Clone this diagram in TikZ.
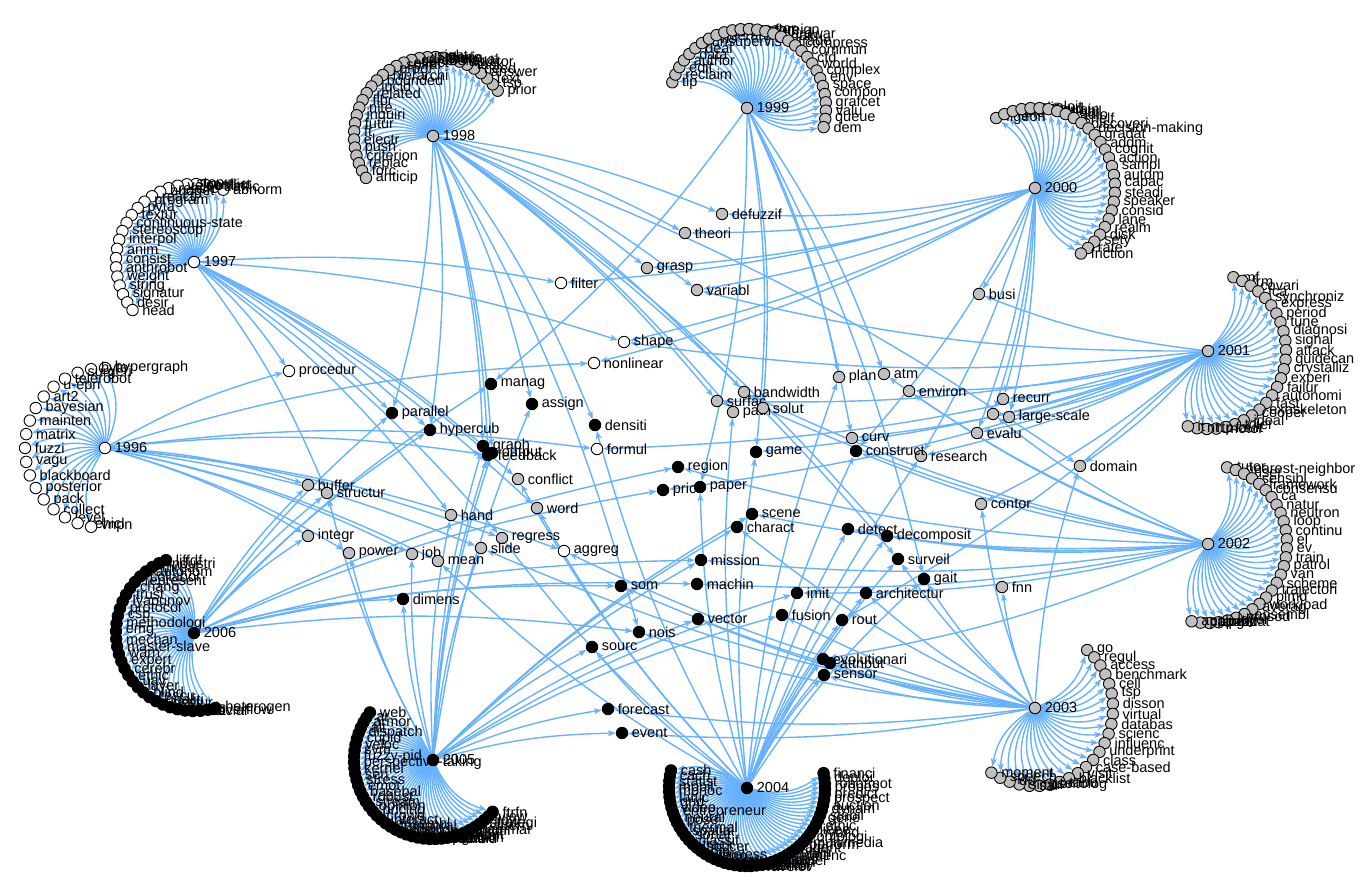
\documentclass[tikz,border=0pt]{standalone}
\usepackage{fontspec}
\setmainfont{Liberation Sans}
\usetikzlibrary{arrows.meta}
\definecolor{eb}{RGB}{102,178,255}
\definecolor{gr}{RGB}{192,192,192}
\pgfdeclarelayer{bg}
\pgfdeclarelayer{edges}
\pgfsetlayers{bg,edges,main}
\tikzset{
  lbl/.style={font=\fontsize{14.5}{16}\selectfont, inner sep=3.5pt},
  term/.style={circle, draw=black, line width=0.9pt, inner sep=0pt, minimum size=11.5pt},
  ce/.style={draw=eb, line width=1.4pt, -{Stealth[length=8pt,width=6pt,inset=2pt]}},
}
\newcommand\myfan[7]{% year, x, y, r, a0, a1, fill ; labels in \fanlabels
  \node[term,fill=#7,label={[lbl]right:#1}] (h#1) at (#2,#3) {};
  \foreach \w [count=\i] in \fanlabels {\xdef\nn{\i}}
  \expandafter\xdef\csname fann#1\endcsname{\nn}
  \foreach \w [count=\i] in \fanlabels {%
    \pgfmathsetmacro\ang{#5+(\i-1)*((#6)-(#5))/(\nn-1)}%
    \pgfmathsetmacro\lx{#2+#4*cos(\ang)}%
    \pgfmathsetmacro\ly{#3-#4*sin(\ang)}%
    \node[term,fill=#7,label={[lbl]right:\w}] (l#1-\i) at (\lx,\ly) {};
  }}
\newcommand\mytn[4]{\node[term,fill=#1,label={[lbl]right:#4}] (#2) at (#3) {};}
\begin{document}
\begin{tikzpicture}[x=1pt,y=-1pt]
\useasboundingbox (0,0) rectangle (1371,888);
\begin{pgfonlayer}{bg}
\fill[white] (0,0) rectangle (1371,888);
\end{pgfonlayer}

% ---------- year fans ----------
\def\fanlabels{{hypergraph},{byte},{surgeri},{telerobot},{u-epn},{art2},{bayesian},{mainten},{matrix},{fuzzi},{vagu},{blackboard},{posterior},{pack},{collect},{level},{vehicl},{vnpn}}
\myfan{1996}{105}{448}{80}{90}{260}{white}

\def\fanlabels{{abnorm},{traffic},{offlin},{conflict},{stop},{veloc},{reach},{budget},{reacti},{program},{pvta},{textur},{continuous-state},{stereoscop},{interpol},{anim},{consist},{anthrobot},{weight},{string},{signatur},{desir},{head}}
\myfan{1997}{194}{262}{78}{68}{218}{white}

\def\fanlabels{{prior},{tsp},{text},{answer},{need},{task},{auditor},{visual},{lexic},{mode},{sight},{deliber},{cerebellar},{effect},{spiral},{proof},{hierarchi},{bounded},{lucid},{related},{fibr},{nite},{inquiri},{futur},{ft},{electr},{push},{criterion},{replac},{forc},{anticip}}
\myfan{1998}{433}{136}{79}{35}{212}{gr}

\def\fanlabels{{tip},{reclaim},{edit},{author},{data},{deal},{unsupervis},{vis},{hierarch},{teleoper},{latent},{iter},{restor},{atom},{foreign},{hardwar},{gain},{trade},{compress},{commun},{cfd},{world},{complex},{env},{space},{compon},{grafcet},{valu},{queue},{dem}}
\myfan{1999}{747}{108}{79}{161}{-14}{gr}

\def\fanlabels{{figeon},{ligne},{tow},{polit},{exploit},{cloud},{terrain},{mobil},{radio},{shelf},{discoveri},{decision-making},{gradat},{addm},{cognit},{action},{sampl},{autom},{capac},{steadi},{speaker},{consid},{lane},{realm},{disk},{sety},{rate},{friction}}
\myfan{2000}{1035}{188}{80}{119}{-55}{gr}

\def\fanlabels{{mf},{frm},{covari},{fca},{synchroniz},{express},{period},{tune},{diagnosi},{signal},{attack},{guidecan},{crystalliz},{experi},{failur},{autonomi},{fast},{exoskeleton},{cooper},{ideal},{toler},{fault},{motor},{rtp},{nt},{it}}
\myfan{2001}{1208}{351}{78}{71}{-105}{gr}

\def\fanlabels{{tutor},{nearest-neighbor},{user},{sensibl},{framework},{consensu},{ca},{natur},{neutron},{loop},{continu},{el},{ev},{train},{patrol},{van},{scheme},{trajectori},{plmd},{workload},{averag},{ensembl},{prosod},{layer},{predat},{target},{capabl},{appli}}
\myfan{2002}{1208}{544}{79}{76}{-102}{gr}

\def\fanlabels{{go},{regul},{access},{benchmark},{cell},{tsp},{disson},{virtual},{databas},{scienc},{influenc},{underprint},{class},{case-based},{visit},{blacklist},{tabu},{ontolog},{pso},{sal},{simul},{dp},{speech},{moment}}
\myfan{2003}{1035}{708}{78}{48}{-124}{gr}

\def\fanlabels{{financi},{deploi},{robotmot},{propos},{predict},{prospect},{auction},{dynam},{stabil},{gene},{ethic},{ieee},{hybrid},{ontologi},{multimedia},{perform},{agent},{onlin},{polici},{sequenc},{model},{spars},{infer},{recogn},{markov},{wavelet},{tree},{kalman},{cluster},{optim},{schedul},{market},{colour},{lego},{wireless},{bio},{soccer},{track},{classif},{sonar},{spatial},{thermal},{pose},{neural},{entrepreneur},{video},{grid},{lattic},{monoc},{mobil},{statist},{cach},{cash}}
\myfan{2004}{747}{788}{78}{11}{-193}{black}

\def\fanlabels{{web},{ar},{armor},{alt},{dispatch},{cupid},{veloc},{svm},{fuzzy-pid},{perspective-taking},{kernel},{seri},{stress},{emot},{basebal},{robust},{stream},{opinion},{pricing},{crowd},{interact},{ensembl},{temporal},{elder},{ontolog},{cognit},{speci},{tactil},{humanoid},{reput},{negoti},{coalit},{auction},{prefer},{intent},{grammar},{motif},{pattern},{strategi},{flow},{view},{ftrfn}}
\myfan{2005}{433}{760}{79}{143}{319}{black}

\def\fanlabels{{liffdf},{industri},{threat},{autonom},{collabor},{represent},{chang},{trust},{lyapunov},{protocol},{csp},{methodologi},{emg},{mechan},{master-slave},{warn},{expert},{cerebr},{ethic},{uav},{layer},{blind},{rescu},{qualiti},{gestur},{secur},{haptic},{cost},{test},{social},{overflow},{heterogen}}
\myfan{2006}{194}{633}{78}{111}{286}{black}

% ---------- shared terms ----------
\mytn{white}{filter}{561,283}{filter}
\mytn{white}{shape}{624,342}{shape}
\mytn{white}{nonlinear}{594,363}{nonlinear}
\mytn{white}{procedur}{289,371}{procedur}
\mytn{white}{formul}{597,449}{formul}
\mytn{white}{aggreg}{564,551}{aggreg}

\mytn{gr}{defuzzif}{722,214}{defuzzif}
\mytn{gr}{theori}{685,233}{theori}
\mytn{gr}{grasp}{647,268}{grasp}
\mytn{gr}{variabl}{697,290}{variabl}
\mytn{gr}{busi}{979,294}{busi}
\mytn{gr}{plan}{839,377}{plan}
\mytn{gr}{atm}{884,374}{atm}
\mytn{gr}{environ}{909,391}{environ}
\mytn{gr}{bandwidth}{744,392}{bandwidth}
\mytn{gr}{surfac}{717,401}{surfac}
\mytn{gr}{path}{733,412}{path}
\mytn{gr}{solut}{763,408}{solut}
\mytn{gr}{recurr}{1003,399}{recurr}
\node[term,fill=gr] (ls1) at (993,414) {};
\mytn{gr}{ls2}{1009,417}{large-scale}
\mytn{gr}{evalu}{977,433}{evalu}
\mytn{gr}{curv}{852,438}{curv}
\mytn{gr}{research}{921,456}{research}
\mytn{gr}{domain}{1080,466}{domain}
\mytn{gr}{contor}{981,504}{contor}
\mytn{gr}{fnn}{1002,587}{fnn}
\mytn{gr}{buffer}{308,485}{buffer}
\mytn{gr}{structur}{327,493}{structur}
\mytn{gr}{integr}{308,536}{integr}
\mytn{gr}{power}{349,553}{power}
\mytn{gr}{job}{412,554}{job}
\mytn{gr}{mean}{438,561}{mean}
\mytn{gr}{hand}{451,515}{hand}
\mytn{gr}{conflict}{518,479}{conflict}
\mytn{gr}{word}{537,508}{word}
\mytn{gr}{regress}{502,538}{regress}
\mytn{gr}{slide}{481,548}{slide}

\mytn{black}{manag}{491,384}{manag}
\mytn{black}{assign}{532,404}{assign}
\mytn{black}{densiti}{595,425}{densiti}
\mytn{black}{parallel}{392,413}{parallel}
\mytn{black}{hypercub}{430,430}{hypercub}
\mytn{black}{graph}{483,446}{graph}
\mytn{black}{fb1}{488,455}{feedback}
\mytn{black}{fb2}{492,453}{output}
\mytn{black}{region}{678,467}{region}
\mytn{black}{price}{663,490}{price}
\mytn{black}{paper}{700,487}{paper}
\mytn{black}{game}{756,452}{game}
\mytn{black}{construct}{856,451}{construct}
\mytn{black}{scene}{752,514}{scene}
\mytn{black}{charact}{737,527}{charact}
\mytn{black}{detect}{848,529}{detect}
\mytn{black}{decomposit}{887,536}{decomposit}
\mytn{black}{mission}{701,560}{mission}
\mytn{black}{machin}{697,584}{machin}
\mytn{black}{surveil}{898,559}{surveil}
\mytn{black}{gait}{924,579}{gait}
\mytn{black}{som}{621,586}{som}
\mytn{black}{imit}{797,593}{imit}
\mytn{black}{architectur}{866,593}{architectur}
\mytn{black}{fusion}{782,615}{fusion}
\mytn{black}{rout}{842,620}{rout}
\mytn{black}{vector}{698,619}{vector}
\mytn{black}{nois}{639,632}{nois}
\mytn{black}{sourc}{592,647}{sourc}
\mytn{black}{evolutionari}{823,659}{evolutionari}
\mytn{black}{attribut}{830,663}{attribut}
\mytn{black}{sensor}{824,675}{sensor}
\mytn{black}{dimens}{403,599}{dimens}
\mytn{black}{forecast}{608,709}{forecast}
\mytn{black}{event}{622,733}{event}

% ---------- connectors (all on one layer) ----------
\begin{pgfonlayer}{edges}
\foreach \y in {1996,1997,1998,1999,2000,2001,2002,2003,2004,2005,2006} {
  \pgfmathtruncatemacro\m{\csname fann\y\endcsname}
  \foreach \i in {1,...,\m}
    \draw[ce] (h\y) to[bend right=24] (l\y-\i);
}
\foreach \a/\b in {
1997/filter, 2000/filter, 1997/shape, 2001/shape, 2000/shape,
1996/nonlinear, 2000/nonlinear, 1996/procedur, 1997/procedur,
1996/formul, 2001/formul, 1996/aggreg, 2003/aggreg,
1998/defuzzif, 2000/defuzzif, 1998/theori, 2000/theori,
1998/grasp, 2000/grasp, 1998/variabl, 2000/variabl, 2001/variabl,
2000/busi, 2001/busi, 1999/plan, 2004/plan, 1999/atm, 2002/atm,
2001/environ, 2002/environ, 1998/bandwidth, 2002/bandwidth,
1998/surfac, 2001/surfac, 1998/path, 2004/path, 1999/solut, 2002/solut,
2000/recurr, 2001/recurr, 2000/ls1, 2002/ls1, 2000/ls2, 2001/ls2,
2000/evalu, 2001/evalu, 1999/curv, 2001/curv,
2000/research, 2004/research, 2001/research,
1998/domain, 2001/domain, 2003/domain, 2001/contor, 2003/contor, 2003/fnn,
1996/buffer, 2006/buffer, 1997/structur, 2006/structur, 2005/structur,
1996/integr, 2006/integr, 1996/power, 2005/power, 1996/job, 2005/job,
1996/mean, 2004/mean, 1997/hand, 2005/hand, 1997/conflict, 2004/conflict,
1997/word, 2004/word, 1996/regress, 1997/regress, 2004/regress,
1996/slide, 2005/slide, 2003/slide,
1999/manag, 2006/manag, 1998/assign, 2005/assign, 1998/densiti, 2004/densiti,
1998/parallel, 2006/parallel, 1997/parallel,
1998/hypercub, 2006/hypercub, 1997/hypercub,
1998/graph, 2005/graph, 1998/fb1, 2005/fb1, 1996/fb1, 1998/fb2, 2005/fb2, 1997/fb2,
2002/region, 2006/region, 2006/price, 2001/price, 1999/paper, 2004/paper,
1999/game, 2004/game, 2001/game, 2000/construct, 2004/construct, 2002/construct,
2005/scene, 2002/scene, 2005/charact, 2003/charact, 2004/detect, 2002/detect,
1998/decomposit, 2004/decomposit, 2002/decomposit,
2006/mission, 2002/mission, 2005/mission, 2006/machin, 2002/machin,
1998/surveil, 2004/surveil, 2003/surveil, 1999/gait, 2003/gait, 2004/gait,
2006/som, 2003/som, 2005/imit, 2002/imit, 2004/architectur, 2003/architectur,
2005/fusion, 2003/fusion, 2004/rout, 2001/rout, 2005/vector, 2003/vector,
2006/nois, 2003/nois, 1998/nois, 2005/sourc, 2004/sourc,
2004/evolutionari, 2002/evolutionari, 2004/attribut, 2003/attribut,
2004/sensor, 2003/sensor, 2006/dimens, 2005/dimens,
2005/forecast, 2003/forecast, 2005/event, 2003/event}
  \draw[ce] (h\a) to[bend left=7] (\b);
\end{pgfonlayer}
\end{tikzpicture}
\end{document}
